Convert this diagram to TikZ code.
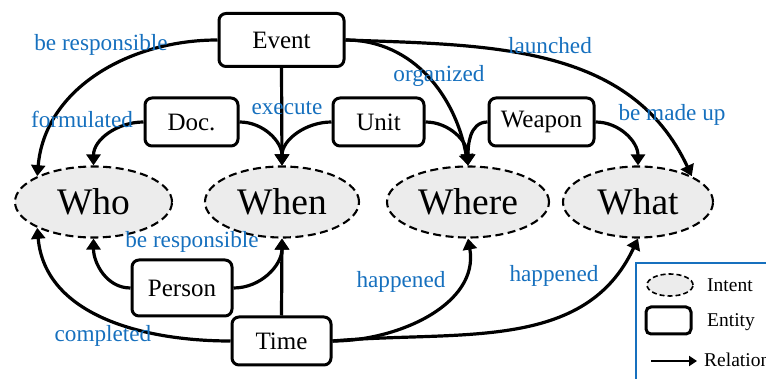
\documentclass[tikz,border=0pt]{standalone}
\usepackage{fontspec}
\setmainfont{Liberation Serif}
\usetikzlibrary{arrows.meta,shapes.geometric}
\definecolor{relblue}{RGB}{22,112,190}
\definecolor{intentgray}{RGB}{236,236,236}

\begin{document}
\begin{tikzpicture}[x=1pt,y=-1pt,
  entity/.style={draw, line width=3pt, rounded corners=7pt, fill=white,
    inner sep=0pt, font=\fontsize{25}{25}\selectfont},
  intent/.style={ellipse, draw, dash pattern=on 8pt off 4.5pt, line width=2.1pt,
    fill=intentgray, minimum height=71pt, inner sep=0pt,
    font=\fontsize{37.5}{37.5}\selectfont},
  rel/.style={line width=3.2pt, -{Triangle[length=11pt,width=14pt]}},
  lbl/.style={text=relblue, font=\fontsize{23.2}{23.2}\selectfont, inner sep=0pt},
  legtext/.style={anchor=west, inner sep=0pt, font=\fontsize{19.5}{19.5}\selectfont},
]
\useasboundingbox (0,0) rectangle (766,379);

% intents
\node[intent, minimum width=157pt] (who)   at (93.5,202) {Who};
\node[intent, minimum width=154pt] (when)  at (282,202)  {When};
\node[intent, minimum width=162pt] (where) at (468,202)  {Where};
\node[intent, minimum width=150pt] (what)  at (638,202)  {What};

% entities
\node[entity, minimum width=125pt, minimum height=53pt] (event)  at (281.5,40)  {Event};
\node[entity, minimum width=93pt,  minimum height=48pt] (doc)    at (191.5,122) {Doc.};
\node[entity, minimum width=91pt,  minimum height=48pt] (unit)   at (378.5,122) {Unit};
\node[entity, minimum width=105pt, minimum height=48pt] (weapon) at (541.5,122) {Weapon};
\node[entity, minimum width=100pt, minimum height=56pt] (person) at (182,288)   {Person};
\node[entity, minimum width=99pt,  minimum height=48pt] (time)   at (281.5,341) {Time};

% relations from above
\draw[rel] (event.west) to[out=180, in=85] (who.north west);
\draw[rel] (doc.west)   to[out=180, in=90] (who.north);
\draw[rel] (doc.east)   to[out=0,   in=90] (when.north);
\draw[rel] (event.south) -- (when.north);
\draw[rel] (unit.west)  to[out=180, in=90] (when.north);
\draw[rel] (unit.east)  to[out=0,   in=90] (where.north);
\draw[rel] (event.east) to[out=0,   in=100] (where.north);
\draw[rel] (weapon.west) to[out=180, in=90] (where.north);
\draw[rel] (weapon.east) to[out=0,   in=90] (what.north);
\draw[rel] (event.east) to[out=-2,  in=115] (what.north east);

% relations from below
\draw[rel] (person.west) to[out=180, in=-90] (who.south);
\draw[rel] (person.east) to[out=0,   in=-90] (when.south);
\draw[rel] (time.north) -- (when.south);
\draw[rel] (time.west)  to[out=180, in=-85] (who.south west);
\draw[rel] (time.east)  to[out=0,   in=-80] (where.south);
\draw[rel] (time.east)  to[out=5,   in=-115] (what.south);

% relation labels
\node[lbl] (l1)  at (101,45)  {be responsible};
\node[lbl] (l2)  at (82,119)  {formulated};
\node[lbl] (l3)  at (287,108) {execute};
\node[lbl] (l4)  at (439,76)  {organized};
\node[lbl] (l5)  at (550,46)  {launched};
\node[lbl] (l6)  at (672,115) {be made up};
\node[lbl] (l7)  at (192,242) {be responsible};
\node[lbl] (l8)  at (103,336) {completed};
\node[lbl] (l9)  at (401,282) {happened};
\node[lbl] (l10) at (554,276) {happened};

% legend
\draw[relblue, line width=1.5pt] (636,263) rectangle (800,400);
\node[intent, minimum width=46pt, minimum height=22pt, line width=1.6pt,
      dash pattern=on 5pt off 3pt] (lgi) at (670,285) {};
\node[entity, minimum width=45pt, minimum height=27pt, rounded corners=5pt] (lge) at (668.5,320.5) {};
\coordinate (lga) at (651,361);
\coordinate (lgb) at (697,361);
\draw[line width=2.6pt, -{Triangle[length=8pt,width=10pt]}] (lga) -- (lgb);
\node[legtext] (lgit) at (707,285) {Intent};
\node[legtext] (lget) at (707,322) {Entity};
\node[legtext] (lgrt) at (704,360) {Relation};
\end{tikzpicture}
\end{document}
